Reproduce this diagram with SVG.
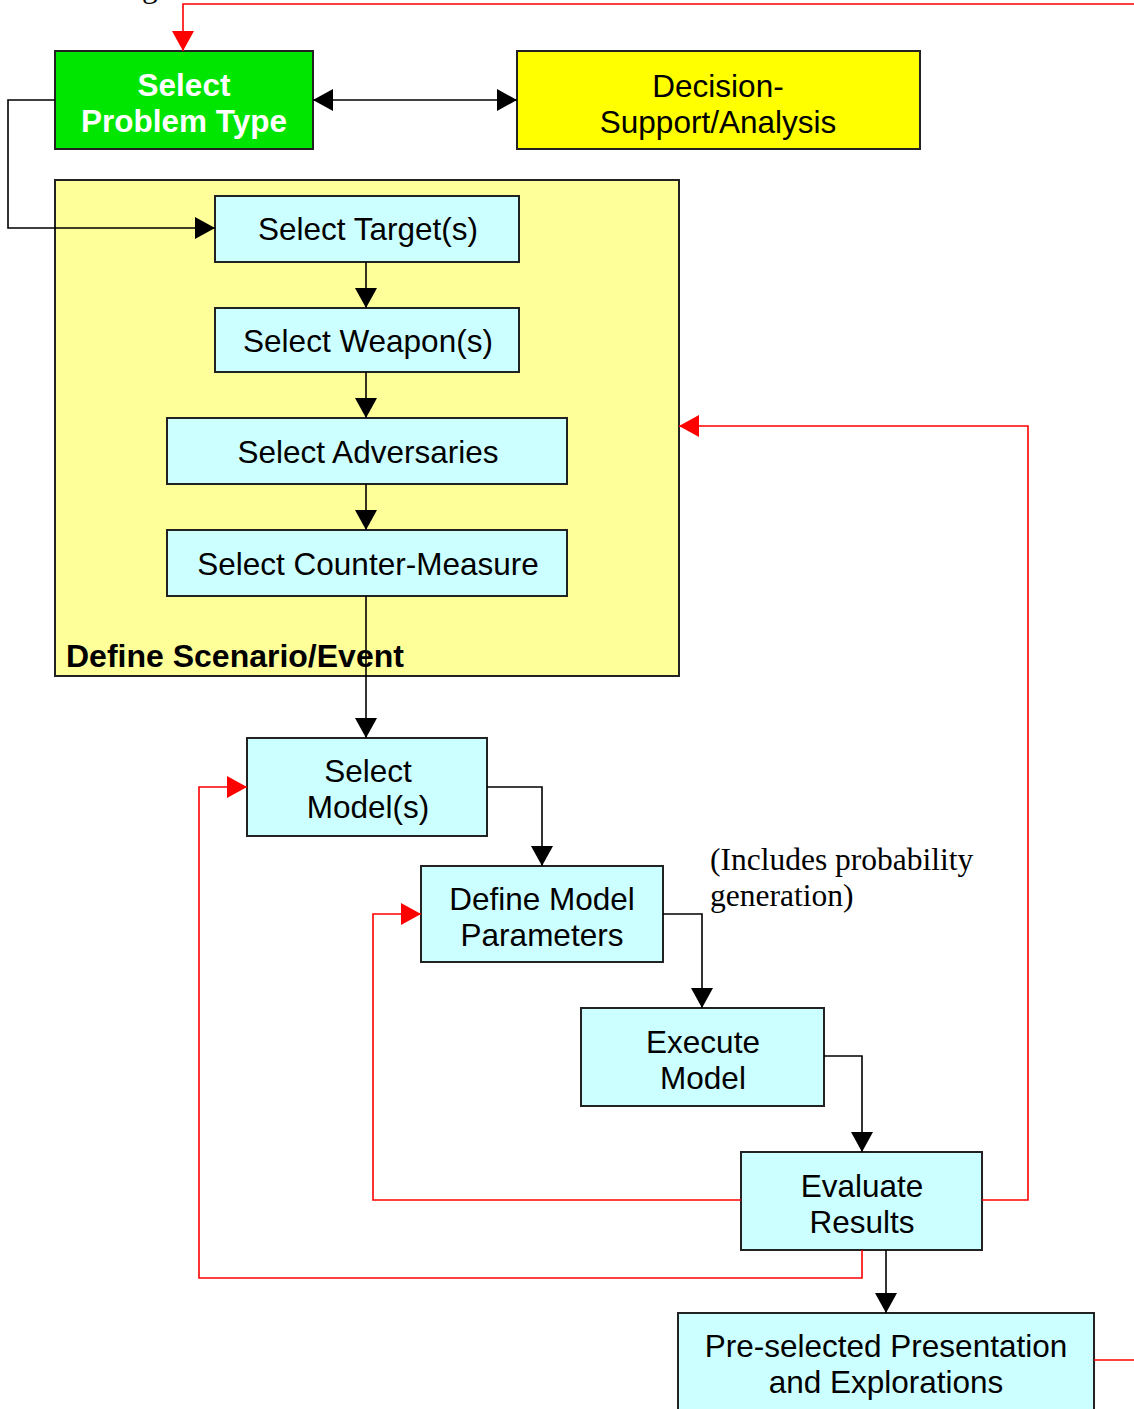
<svg xmlns="http://www.w3.org/2000/svg" width="1134" height="1409" viewBox="0 0 1134 1409">
  <defs>
    <style>
      .box { fill: #ccffff; stroke: #222; stroke-width: 2; }
      .lbl { font-family: "Liberation Sans", Arial, sans-serif; font-size: 31.5px; fill: #000; text-anchor: middle; }
      .bold { font-weight: bold; }
      .note { font-family: "Liberation Serif", "Times New Roman", serif; font-size: 31.5px; fill: #000; }
      .blk { fill: none; stroke: #000; stroke-width: 1.6; }
      .red { fill: none; stroke: #ff0000; stroke-width: 1.6; }
    </style>
    <marker id="ah" markerUnits="userSpaceOnUse" markerWidth="22" markerHeight="22" refX="20" refY="11" orient="auto-start-reverse">
      <path d="M0,0 L20,11 L0,22 z" fill="#000"/>
    </marker>
    <marker id="ahr" markerUnits="userSpaceOnUse" markerWidth="22" markerHeight="22" refX="20" refY="11" orient="auto">
      <path d="M0,0 L20,11 L0,22 z" fill="#ff0000"/>
    </marker>
  </defs>

  <rect x="0" y="0" width="1134" height="1409" fill="#fff"/>

  <!-- clipped caption descender at top edge -->
  <text class="note" x="142" y="-3">g</text>

  <!-- scenario container -->
  <g id="scenario">
    <rect x="55" y="180" width="624" height="496" fill="#ffff99" stroke="#222" stroke-width="2"/>
    <text class="lbl bold" x="66" y="667" style="text-anchor:start;font-size:32px">Define Scenario/Event</text>
  </g>

  <g id="problem-type">
    <rect x="55" y="51" width="258" height="98" fill="#00e600" stroke="#222" stroke-width="2"/>
    <text class="lbl bold" x="184" y="96" fill="#fff" style="fill:#fff">Select</text>
    <text class="lbl bold" x="184" y="132" style="fill:#fff">Problem Type</text>
  </g>

  <g id="decision-support">
    <rect x="517" y="51" width="403" height="98" fill="#ffff00" stroke="#222" stroke-width="2"/>
    <text class="lbl" x="718" y="97">Decision-</text>
    <text class="lbl" x="718" y="133">Support/Analysis</text>
  </g>

  <g id="select-targets">
    <rect class="box" x="215" y="196" width="304" height="66"/>
    <text class="lbl" x="368" y="240">Select Target(s)</text>
  </g>

  <g id="select-weapons">
    <rect class="box" x="215" y="308" width="304" height="64"/>
    <text class="lbl" x="368" y="352">Select Weapon(s)</text>
  </g>

  <g id="select-adversaries">
    <rect class="box" x="167" y="418" width="400" height="66"/>
    <text class="lbl" x="368" y="463">Select Adversaries</text>
  </g>

  <g id="select-countermeasure">
    <rect class="box" x="167" y="530" width="400" height="66"/>
    <text class="lbl" x="368" y="575">Select Counter-Measure</text>
  </g>

  <g id="select-models">
    <rect class="box" x="247" y="738" width="240" height="98"/>
    <text class="lbl" x="368" y="782">Select</text>
    <text class="lbl" x="368" y="818">Model(s)</text>
  </g>

  <g id="define-parameters">
    <rect class="box" x="421" y="866" width="242" height="96"/>
    <text class="lbl" x="542" y="910">Define Model</text>
    <text class="lbl" x="542" y="946">Parameters</text>
  </g>

  <text class="note" x="710" y="870">(Includes probability</text>
  <text class="note" x="710" y="906">generation)</text>

  <g id="execute-model">
    <rect class="box" x="581" y="1008" width="243" height="98"/>
    <text class="lbl" x="703" y="1053">Execute</text>
    <text class="lbl" x="703" y="1089">Model</text>
  </g>

  <g id="evaluate-results">
    <rect class="box" x="741" y="1152" width="241" height="98"/>
    <text class="lbl" x="862" y="1197">Evaluate</text>
    <text class="lbl" x="862" y="1233">Results</text>
  </g>

  <g id="presentation">
    <rect class="box" x="678" y="1313" width="416" height="110"/>
    <text class="lbl" x="886" y="1357">Pre-selected Presentation</text>
    <text class="lbl" x="886" y="1393">and Explorations</text>
  </g>

  <!-- connectors -->
  <g id="connectors">
    <path class="blk" d="M313,100 L517,100" marker-start="url(#ah)" marker-end="url(#ah)"/>
    <path class="blk" d="M55,100 L8,100 L8,228 L215,228" marker-end="url(#ah)"/>
    <path class="blk" d="M366,262 L366,308" marker-end="url(#ah)"/>
    <path class="blk" d="M366,372 L366,418" marker-end="url(#ah)"/>
    <path class="blk" d="M366,484 L366,530" marker-end="url(#ah)"/>
    <path class="blk" d="M366,596 L366,738" marker-end="url(#ah)"/>
    <path class="blk" d="M487,787 L542,787 L542,866" marker-end="url(#ah)"/>
    <path class="blk" d="M663,914 L702,914 L702,1008" marker-end="url(#ah)"/>
    <path class="blk" d="M824,1056 L862,1056 L862,1152" marker-end="url(#ah)"/>
    <path class="blk" d="M886,1250 L886,1313" marker-end="url(#ah)"/>

    <path class="red" d="M1134,4 L183,4 L183,51" marker-end="url(#ahr)"/>
    <path class="red" d="M982,1200 L1028,1200 L1028,426 L679,426" marker-end="url(#ahr)"/>
    <path class="red" d="M741,1200 L373,1200 L373,914 L421,914" marker-end="url(#ahr)"/>
    <path class="red" d="M862,1250 L862,1278 L199,1278 L199,787 L247,787" marker-end="url(#ahr)"/>
    <path class="red" d="M1094,1360 L1134,1360"/>
  </g>
</svg>
